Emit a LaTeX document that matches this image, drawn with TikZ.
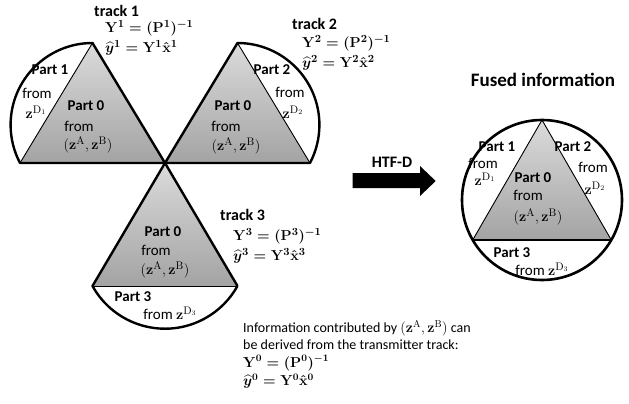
\documentclass[tikz,border=0pt]{standalone}
\usepackage{amsmath}
\usepackage{bm}
\usepackage[no-math]{fontspec}
\setmainfont{Carlito}
\usetikzlibrary{positioning}

\begin{document}
\begin{tikzpicture}[x=1pt,y=-1pt]
	\tikzstyle{outline} = [line width=2.4pt, line join=round]
	\tikzstyle{divider} = [line width=0.9pt]
	\tikzstyle{partzero} = [top color=black!14, bottom color=black!36]
	\tikzstyle{partname} = [inner sep=0pt, font=\fontsize{15}{18}\selectfont\bfseries]
	\tikzstyle{parttext} = [inner sep=0pt, font=\fontsize{15}{18}\selectfont]
	\tikzstyle{trackeq} = [inner sep=0pt, anchor=west, font=\fontsize{15}{18}\selectfont\boldmath]
	\tikzstyle{infotext} = [inner sep=0pt, anchor=west, font=\fontsize{14}{17}\selectfont]
	\useasboundingbox (0,0) rectangle (629,404);
	% corners of the three tracks
	\coordinate (hub) at (165,163);
	\coordinate (apexOne) at (92.5,43);
	\coordinate (baseOne) at (20,163);
	\coordinate (apexTwo) at (237.5,43);
	\coordinate (baseTwo) at (310,163);
	\coordinate (baseThreeL) at (92.5,286);
	\coordinate (baseThreeR) at (237.5,286);
	% track 1
	\fill [partzero] (apexOne) -- (baseOne) -- (hub) -- cycle;
	\draw [divider] (apexOne) -- (baseOne);
	\draw [outline] (hub) -- (apexOne) arc[start angle=-90, end angle=-207.7, radius=81.9] -- (hub);
	% track 2
	\fill [partzero] (apexTwo) -- (hub) -- (baseTwo) -- cycle;
	\draw [divider] (apexTwo) -- (baseTwo);
	\draw [outline] (hub) -- (apexTwo) arc[start angle=-90, end angle=27.7, radius=81.9] -- (hub);
	% track 3
	\fill [partzero] (hub) -- (baseThreeL) -- (baseThreeR) -- cycle;
	\draw [divider] (baseThreeL) -- (baseThreeR);
	\draw [outline] (baseThreeR) -- (hub) -- (baseThreeL) arc[start angle=151, end angle=29, radius=82.87];
	% fused information
	\coordinate (fusedCentre) at (542,200);
	\coordinate (fusedApex) at (542,120);
	\coordinate (fusedBaseL) at (472.7,240);
	\coordinate (fusedBaseR) at (611.3,240);
	\fill [partzero] (fusedApex) -- (fusedBaseL) -- (fusedBaseR) -- cycle;
	\draw [divider] (fusedBaseL) -- (fusedApex) -- (fusedBaseR);
	\draw [divider, line width=1.4pt] (fusedBaseL) -- (fusedBaseR);
	\draw [outline, line width=2.6pt] (fusedCentre) circle[radius=80];
	% HTF-D arrow
	\fill (352.7,173) -- (420,173) -- (420,166) -- (435.7,181) -- (420,196) -- (420,188) -- (352.7,188) -- cycle;
	\node (htf) [partname, font=\fontsize{16}{19}\selectfont\bfseries] at (392,162) {HTF-D};
	\node (fusedTitle) [partname, font=\fontsize{19}{23}\selectfont\bfseries] at (543,80) {Fused information};
	% labels of track 1
	\node (trackOne) [partname, font=\fontsize{16}{19}\selectfont\bfseries, anchor=west] at (94,11) {track 1};
	\node (trackOneY) [trackeq] at (105,28) {$\mathbf{Y}^1=(\mathbf{P}^1)^{-1}$};
	\node (trackOneYhat) [trackeq] at (105,48) {$\widehat{\bm{y}}^1=\mathbf{Y}^1\hat{\mathbf{x}}^1$};
	\node (oneA) [partname] at (50,70) {Part 1};
	\node (oneB) [parttext] at (37,93) {from};
	\node (oneC) [parttext] at (36,112) {$\mathbf{z}^{\mathrm{D}_1}$};
	\node (oneD) [partname] at (86,106) {Part 0};
	\node (oneE) [parttext] at (79,126) {from};
	\node (oneF) [parttext] at (88,145) {$(\mathbf{z}^{\mathrm{A}},\mathbf{z}^{\mathrm{B}})$};
	% labels of track 2
	\node (trackTwo) [partname, font=\fontsize{16}{19}\selectfont\bfseries, anchor=west] at (292,24) {track 2};
	\node (trackTwoY) [trackeq] at (302,43) {$\mathbf{Y}^2=(\mathbf{P}^2)^{-1}$};
	\node (trackTwoYhat) [trackeq] at (302,63) {$\widehat{\bm{y}}^2=\mathbf{Y}^2\hat{\mathbf{x}}^2$};
	\node (twoA) [partname] at (272,70) {Part 2};
	\node (twoB) [parttext] at (290,92) {from};
	\node (twoC) [parttext] at (293,112) {$\mathbf{z}^{\mathrm{D}_2}$};
	\node (twoD) [partname] at (233,106) {Part 0};
	\node (twoE) [parttext] at (226,126) {from};
	\node (twoF) [parttext] at (236,146) {$(\mathbf{z}^{\mathrm{A}},\mathbf{z}^{\mathrm{B}})$};
	% labels of track 3
	\node (trackThree) [partname, font=\fontsize{16}{19}\selectfont\bfseries, anchor=west] at (220,215) {track 3};
	\node (trackThreeY) [trackeq] at (233,236) {$\mathbf{Y}^3=(\mathbf{P}^3)^{-1}$};
	\node (trackThreeYhat) [trackeq] at (233,256) {$\widehat{\bm{y}}^3=\mathbf{Y}^3\hat{\mathbf{x}}^3$};
	\node (threeD) [partname] at (163,232) {Part 0};
	\node (threeE) [parttext] at (156,250) {from};
	\node (threeF) [parttext] at (165,270) {$(\mathbf{z}^{\mathrm{A}},\mathbf{z}^{\mathrm{B}})$};
	\node (threeA) [partname] at (133,297) {Part 3};
	\node (threeB) [parttext] at (170,313) {from $\mathbf{z}^{\mathrm{D}_3}$};
	% labels of the fused information
	\node (fusedA) [partname] at (497,147) {Part 1};
	\node (fusedB) [parttext] at (483,163) {from};
	\node (fusedC) [parttext] at (485,179) {$\mathbf{z}^{\mathrm{D}_1}$};
	\node (fusedD) [partname] at (573,147) {Part 2};
	\node (fusedE) [parttext] at (593,167) {from};
	\node (fusedF) [parttext] at (595,188) {$\mathbf{z}^{\mathrm{D}_2}$};
	\node (fusedG) [partname] at (533,178) {Part 0};
	\node (fusedH) [parttext] at (528,195) {from};
	\node (fusedI) [parttext] at (538,217) {$(\mathbf{z}^{\mathrm{A}},\mathbf{z}^{\mathrm{B}})$};
	\node (fusedJ) [partname] at (512,253) {Part 3};
	\node (fusedK) [parttext] at (542,269) {from $\mathbf{z}^{\mathrm{D}_3}$};
	% transmitter track
	\node (infoOne) [infotext] at (243,328) {Information contributed by $(\mathbf{z}^{\mathrm{A}},\mathbf{z}^{\mathrm{B}})$ can};
	\node (infoTwo) [infotext] at (243,345) {be derived from the transmitter track:};
	\node (infoThree) [infotext, font=\fontsize{14}{17}\selectfont\boldmath] at (243,363) {$\mathbf{Y}^0=(\mathbf{P}^0)^{-1}$};
	\node (infoFour) [infotext, font=\fontsize{14}{17}\selectfont\boldmath] at (243,381) {$\widehat{\bm{y}}^0=\mathbf{Y}^0\hat{\mathbf{x}}^0$};
\end{tikzpicture}
\end{document}
